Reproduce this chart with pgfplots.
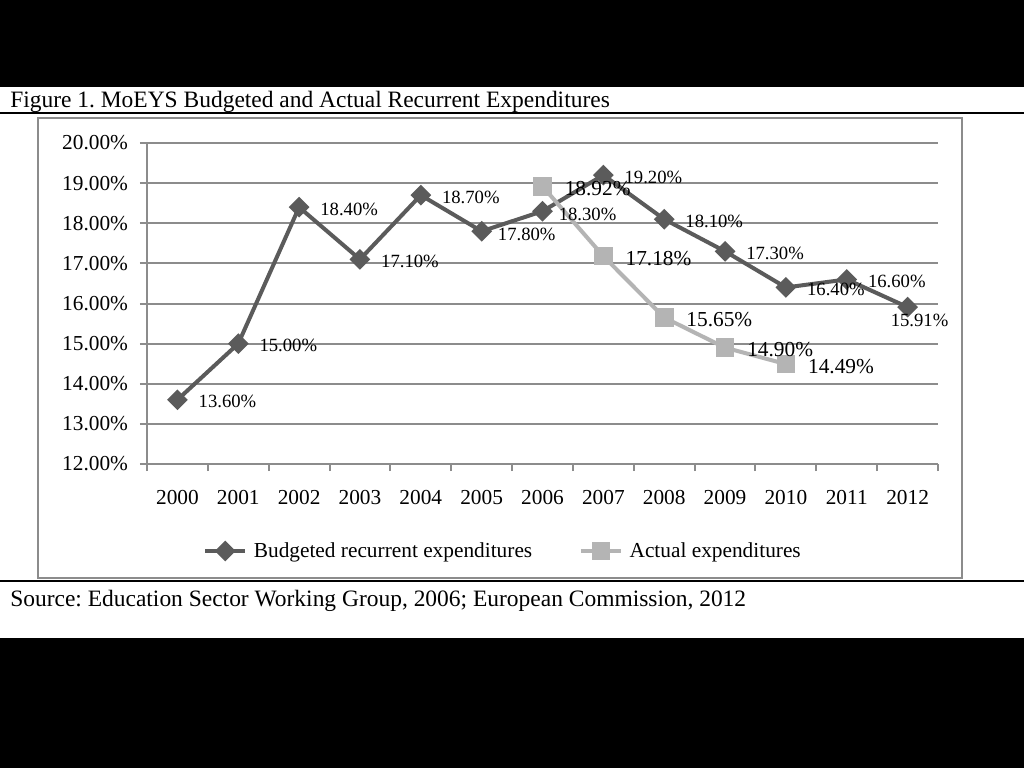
\documentclass[border=0pt]{standalone}
\usepackage{fontspec}
\setmainfont{Liberation Serif}
\usepackage{pgfplots}
\pgfplotsset{compat=1.18}
\definecolor{bud}{HTML}{5B5B5B}
\definecolor{act}{HTML}{B4B4B4}
\definecolor{gridc}{HTML}{8C8C8C}
\frenchspacing
\begin{document}
\begin{tikzpicture}[x=0.75pt,y=0.75pt]
\useasboundingbox (0,0) rectangle (1024,768);
\fill[white] (0,0) rectangle (1024,768);
\fill[black] (0,681) rectangle (1024,768);
\fill[black] (0,0) rectangle (1024,130);
\draw[gridc, line width=1.5pt] (38,190) rectangle (962,650);
\draw[black, line width=2pt] (0,655) -- (1024,655);
\draw[black, line width=2pt] (0,187) -- (1024,187);
\node[anchor=base west, inner sep=0, font=\fontsize{17.6}{20}\selectfont] at (10,660) {Figure 1. MoEYS Budgeted and Actual Recurrent Expenditures};
\node[anchor=base west, inner sep=0, font=\fontsize{17.6}{21}\selectfont] at (10,162) {Source: Education Sector Working Group, 2006; European Commission, 2012};
\begin{axis}[
  at={(110.25pt,228pt)}, anchor=south west,
  scale only axis, width=593.25pt, height=240.75pt,
  xmin=-0.5, xmax=12.5, ymin=12, ymax=20,
  axis x line=bottom, axis y line=left,
  axis line style={-, draw=gridc, line width=1.5pt},
  /pgf/number format/assume math mode=true,
  xtick={-0.5,0.5,...,12.5}, xticklabels={},
  extra x ticks={0,...,12},
  extra x tick labels={2000,2001,2002,2003,2004,2005,2006,2007,2008,2009,2010,2011,2012},
  extra x tick style={major tick length=0pt, grid=none},
  ytick={12,13,...,20},
  yticklabel={\pgfmathprintnumber[fixed,fixed zerofill,precision=2]{\tick}\%},
  tick align=outside, major tick length=5.25pt,
  tick style={gridc, line width=1.5pt},
  ymajorgrids, grid style={gridc, line width=1.5pt},
  tick label style={font=\fontsize{16}{18}\selectfont, text=black},
  xticklabel style={yshift=-16.5pt},
  yticklabel style={xshift=-5.5pt},
  legend style={at={(0.453,-0.271)}, anchor=center, draw=none, fill=none,
    font=\fontsize{16}{18}\selectfont, legend columns=2,
    nodes={inner xsep=5pt},
    /tikz/every even column/.append style={column sep=30pt}},
  legend image code/.code={\draw[mark repeat=2, mark phase=2] plot coordinates {(0pt,0pt)(15pt,0pt)(30pt,0pt)};},
  clip=false,
]
\addplot[bud, line width=3pt, mark=square*, mark size=4pt, mark options={rotate=45, solid}]
  coordinates {(0,13.60) (1,15.00) (2,18.40) (3,17.10) (4,18.70) (5,17.80) (6,18.30) (7,19.20) (8,18.10) (9,17.30) (10,16.40) (11,16.60) (12,15.91)};
\addlegendentry{Budgeted recurrent expenditures}
\addplot[act, line width=3pt, mark=square*, mark size=5.5pt, mark options={solid}]
  coordinates {(6,18.92) (7,17.18) (8,15.65) (9,14.90) (10,14.49)};
\addlegendentry{Actual expenditures}
% data labels
\addplot[draw=none, mark=none, forget plot, point meta=explicit symbolic,
  nodes near coords={\pgfplotspointmeta\%},
  every node near coord/.append style={font=\fontsize{14}{16}\selectfont, text=black, anchor=west, xshift=15.75pt, yshift=-1.5pt, inner sep=0pt}]
  coordinates {(0,13.60)[13.60] (1,15.00)[15.00] (2,18.40)[18.40] (3,17.10)[17.10] (4,18.70)[18.70] (7,19.20)[19.20] (8,18.10)[18.10] (9,17.30)[17.30] (10,16.40)[16.40] (11,16.60)[16.60]};
\addplot[draw=none, mark=none, forget plot, point meta=explicit symbolic,
  nodes near coords={\pgfplotspointmeta\%},
  every node near coord/.append style={font=\fontsize{14}{16}\selectfont, text=black, anchor=west, xshift=12pt, yshift=-2.2pt, inner sep=0pt}]
  coordinates {(5,17.80)[17.80] (6,18.30)[18.30]};
\addplot[draw=none, mark=none, forget plot, point meta=explicit symbolic,
  nodes near coords={\pgfplotspointmeta\%},
  every node near coord/.append style={font=\fontsize{14}{16}\selectfont, text=black, anchor=north, xshift=9pt, yshift=-5.25pt, inner sep=0pt}]
  coordinates {(12,15.91)[15.91]};
\addplot[draw=none, mark=none, forget plot, point meta=explicit symbolic,
  nodes near coords={\pgfplotspointmeta\%},
  every node near coord/.append style={font=\fontsize{16}{18}\selectfont, text=black, anchor=west, xshift=16.5pt, yshift=-1.5pt, inner sep=0pt}]
  coordinates {(6,18.92)[18.92] (7,17.18)[17.18] (8,15.65)[15.65] (9,14.90)[14.90] (10,14.49)[14.49]};
\end{axis}
\end{tikzpicture}
\end{document}
